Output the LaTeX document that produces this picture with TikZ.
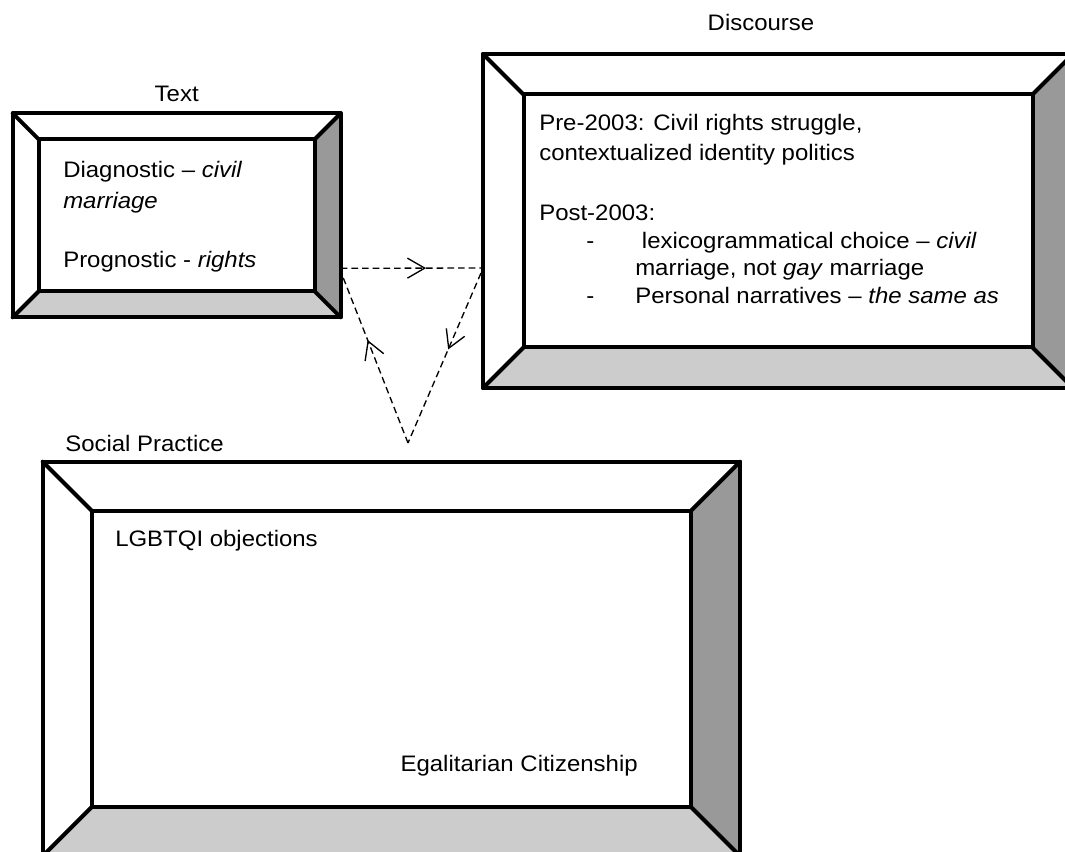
\documentclass[tikz,border=0pt]{standalone}
\usepackage{fontspec}
\setmainfont{Liberation Sans}[FakeStretch=1.07]
\usetikzlibrary{fit,calc,arrows.meta,decorations.markings}

\definecolor{sidegray}{gray}{0.6}
\definecolor{basegray}{gray}{0.8}

\newcommand\figfont{\fontsize{16.8pt}{22.5pt}\selectfont}

% Bevelled frame drawn around a fitted node #1 with bevel depth #2
\newcommand\bevelframe[2]{%
  \fill[white] (#1.north west) rectangle (#1.south east);
  \fill[sidegray] (#1.north east) -- (#1.south east)
     -- ($(#1.south east)+(-#2,-#2)$) -- ($(#1.north east)+(-#2,#2)$) -- cycle;
  \fill[basegray] (#1.south west) -- (#1.south east)
     -- ($(#1.south east)+(-#2,-#2)$) -- ($(#1.south west)+(#2,-#2)$) -- cycle;
  \draw[frameline] (#1.north west) rectangle (#1.south east);
  \draw[frameline] ($(#1.north west)+(#2,#2)$) rectangle ($(#1.south east)+(-#2,-#2)$);
  \draw[frameline] (#1.north west) -- ++(#2,#2);
  \draw[frameline] (#1.north east) -- ++(-#2,#2);
  \draw[frameline] (#1.south east) -- ++(-#2,-#2);
  \draw[frameline] (#1.south west) -- ++(#2,-#2);
}

\tikzset{
  frameline/.style={line width=3pt, line join=round, line cap=round},
  framebox/.style={inner sep=0pt, outer sep=0pt},
  txt/.style={anchor=base west, inner sep=0pt, font=\figfont},
  title/.style={anchor=base, inner sep=0pt, font=\figfont},
  cycleline/.style={line width=1pt, dash pattern=on 5pt off 3pt},
  midarrow/.style={decoration={markings,
      mark=at position #1 with {\arrow[line width=1pt]{Straight Barb[length=13pt,width=15pt]}}},
      postaction={decorate}},
}

\begin{document}
\begin{tikzpicture}[x=0.75pt, y=-0.75pt]
\useasboundingbox (0,0) rectangle (1065,852);
\clip (0,0) rectangle (1065,852);

% frames
\node[framebox, fit={(12.7,113.3) (340.7,317.3)}] (tb) {};
\node[framebox, fit={(483,54) (1073,388)}] (disc) {};
\node[framebox, fit={(42.7,461.7) (740,856)}] (soc) {};

\bevelframe{tb}{26}
\bevelframe{disc}{40.5}
\bevelframe{soc}{49}

% titles
\node[title] (tbtitle) at (176.7,101.7) {Text};
\node[title] (disctitle) at (761,30.7) {Discourse};
\node[txt] (soctitle) at (65,451.7) {Social Practice};

% text frame contents
\node[txt] (tb1) at (63,177.3) {Diagnostic – \textit{civil}};
\node[txt] (tb2) at (63,208.3) {\textit{marriage}};
\node[txt] (tb3) at (63,267.3) {Prognostic - \textit{rights}};

% discourse frame contents
\node[txt] (d1) at (539,130.7) {Pre-2003: Civil rights struggle,};
\node[txt] (d2) at (539,160.7) {contextualized identity politics};
\node[txt] (d3) at (539,220.7) {Post-2003:};
\node[txt] (d4b) at (586,248.5) {-};
\node[txt] (d4) at (635,248.5) {\ lexicogrammatical choice – \textit{civil}};
\node[txt] (d5) at (635,276) {marriage, not \textit{gay} marriage};
\node[txt] (d6b) at (586,303.5) {-};
\node[txt] (d6) at (635,303.5) {Personal narratives – \textit{the same as}};

% social practice frame contents
\node[txt] (s1) at (115,546.7) {LGBTQI objections};
\node[txt, anchor=base east] (s2) at (638,771) {Egalitarian Citizenship};

% dashed cycle between the three frames
\coordinate (tA) at ($(tb.south east)+(0,-49)$);
\coordinate (tB) at ($(tb.south east)+(0,-46)$);
\coordinate (dA) at ($(disc.south west)+(0,-120)$);
\coordinate (dB) at ($(disc.south west)+(-2,-115)$);
\coordinate (apex) at (408,443);

\draw[cycleline, midarrow=0.6] (tA) -- (dA);
\draw[cycleline, midarrow=0.45] (dB) -- (apex);
\draw[cycleline, midarrow=0.6] (apex) -- (tB);
\end{tikzpicture}
\end{document}
